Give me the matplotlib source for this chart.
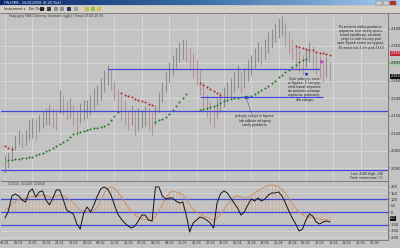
import matplotlib.pyplot as plt
import numpy as np

# price bars (daily), one entry per session
highs = [2037, 2046, 2063, 2094, 2109, 2100, 2109, 2137, 2143, 2137,
         2151, 2160, 2171, 2180, 2171, 2166, 2223, 2209, 2194, 2200,
         2180, 2166, 2186, 2194, 2194, 2209, 2229, 2237, 2257, 2280,
         2294, 2280, 2251, 2223, 2209, 2194, 2166, 2180, 2166, 2171,
         2166, 2177, 2171, 2160, 2180, 2217, 2246, 2274, 2303, 2323,
         2343, 2360, 2371, 2366, 2343, 2331, 2309, 2280, 2246, 2209,
         2189, 2180, 2200, 2217, 2231, 2246, 2257, 2274, 2294, 2274,
         2286, 2309, 2323, 2343, 2360, 2351, 2371, 2389, 2400, 2417,
         2431, 2437, 2417, 2394, 2371, 2351, 2337, 2323, 2343, 2360,
         2351, 2331, 2320, 2309, 2317, 2303]
lows = [1986, 2000, 2023, 2051, 2066, 2057, 2066, 2080, 2086, 2080,
        2103, 2114, 2123, 2123, 2114, 2109, 2157, 2151, 2137, 2143,
        2123, 2094, 2129, 2137, 2143, 2151, 2166, 2180, 2194, 2217,
        2237, 2223, 2194, 2160, 2137, 2123, 2109, 2123, 2094, 2109,
        2114, 2120, 2109, 2094, 2123, 2160, 2189, 2217, 2246, 2266,
        2286, 2303, 2314, 2303, 2280, 2260, 2237, 2209, 2174, 2146,
        2126, 2117, 2143, 2160, 2174, 2189, 2203, 2217, 2229, 2217,
        2229, 2251, 2266, 2286, 2303, 2294, 2314, 2331, 2343, 2360,
        2374, 2380, 2351, 2331, 2309, 2286, 2274, 2266, 2286, 2303,
        2280, 2269, 2257, 2246, 2260, 2251]

# trailing stop dots: (first bar, values)
green_segments = [
    (2, [2023, 2023, 2026, 2026, 2029, 2029, 2031, 2031, 2037, 2040,
         2043, 2049, 2051, 2057, 2063, 2069, 2074, 2080, 2089, 2097,
         2100, 2103, 2106, 2109, 2111, 2114, 2114, 2117, 2120, 2126,
         2137, 2149, 2160]),
    (45, [2131, 2137, 2140, 2146, 2154, 2166, 2177, 2189, 2200, 2211]),
    (58, [2166, 2169, 2171, 2174, 2177, 2180, 2186, 2191, 2194, 2197,
          2200, 2200, 2203, 2203, 2203, 2206, 2211, 2217, 2223, 2229,
          2234, 2243, 2251, 2260, 2266, 2274, 2280, 2289, 2294, 2303,
          2309, 2314]),
]
red_segments = [
    (1, [2062, 2058, 2055]),
    (35, [2214, 2210, 2206, 2203, 2199, 2195, 2191, 2188, 2184, 2180]),
    (58, [2243, 2237, 2231, 2226, 2220, 2214, 2209]),
    (86, [2349, 2346, 2343, 2340, 2337, 2337, 2334, 2331, 2329, 2326, 2323]),
]

# drawn support / resistance lines: (price, first bar, last bar)
levels = [(2283, 31, 93), (2203, 58, 94), (2163, None, None), (1994, None, None)]

# CCI panel
cci = [-48, 8, 127, 143, 127, 95, 79, 159, 183, 119,
       159, 167, 95, 56, 111, 175, 175, 103, 16, 0,
       -16, -95, -135, -8, 40, 0, 56, 127, 183, 199,
       183, 135, 56, -16, -56, -87, -111, -127, -111, -71,
       -24, -24, -64, -71, 199, 199, 127, 103, 111, 111,
       87, 71, 79, -24, -159, -87, -64, -40, -48, -64,
       -87, -127, 71, 143, 167, 151, 111, 71, 32, -24,
       0, 56, 103, 87, 111, 87, 103, 135, 151, 151,
       159, 127, 71, 8, -48, -95, -151, -135, -64, -16,
       -32, -79, -95, -79, -71, -79]
cci_avg = [20, 30, 60, 85, 100, 105, 105, 115, 125, 125,
           130, 135, 130, 120, 115, 125, 135, 130, 115, 95,
           75, 45, 15, 5, 0, 0, 10, 40, 90, 150,
           185, 200, 190, 160, 120, 80, 40, 5, -25, -45,
           -55, -60, -65, -70, -35, 10, 60, 110, 150, 165,
           160, 150, 140, 110, 60, 20, 0, -15, -30, -40,
           -55, -70, -50, -20, 20, 60, 95, 120, 130, 120,
           110, 115, 130, 150, 170, 185, 200, 210, 215, 210,
           200, 180, 150, 110, 70, 30, 0, -20, -35, -40,
           -45, -50, -55, -60, -60, -62]
cci_levels = [100, 0, -100]

date_labels = ["02.01", "08.01", "12.01", "18.01", "24.01", "30.01", "03.02",
               "09.02", "15.02", "21.02", "27.02", "03.03", "09.03", "15.03",
               "21.03", "27.03", "31.03", "06.04", "12.04", "19.04", "25.04",
               "29.04", "06.05", "12.05", "18.05", "24.05", "30.05", "05.06"]
price_ticks = [2000, 2050, 2100, 2150, 2200, 2250, 2300, 2350, 2400]
cci_ticks = [-200, -150, -100, -50, 0, 50, 100, 150, 200]

BG = '#c3c3c3'
GRID = '#d6d6d6'
BLUE = '#4848d8'
W, H = 400, 248


def px(x0, y0, x1, y1):
    return [x0 / W, 1 - y1 / H, (x1 - x0) / W, (y1 - y0) / H]


fig = plt.figure(figsize=(4, 2.48), dpi=100)
fig.patch.set_facecolor(BG)

# window chrome
chrome = fig.add_axes([0, 0, 1, 1])
chrome.set_xlim(0, W)
chrome.set_ylim(H, 0)
chrome.axis('off')
grad = np.linspace(0, 1, 200).reshape(1, -1)
chrome.imshow(grad, extent=(0, W, 5.5, 0), aspect='auto',
              cmap=plt.matplotlib.colors.LinearSegmentedColormap.from_list('t', ['#0a246a', '#3a6ea5', '#a6caf0']))
chrome.set_xlim(0, W)
chrome.set_ylim(H, 0)
chrome.text(4, 2.9, "FW20M6 - 06/01/2006 (D 20 Tick)", color='white', fontsize=2.4, va='center')
for bx, bc in [(376, '#d4d0c8'), (383, '#d4d0c8'), (390, '#c03020')]:
    chrome.add_patch(plt.Rectangle((bx, 1), 6, 3.8, fc=bc, ec='#404040', lw=0.2))
chrome.add_patch(plt.Rectangle((0, 5.5), W, 7.5, fc='#d4d0c8', ec='none'))
chrome.text(4, 9.3, "Instrument \u25be   Dni Tick \u25be", fontsize=2.4, va='center', color='#202020')
for ix, ic in [(40, '#303030'), (47, '#404040'), (54, '#909090'), (60, '#909090'),
               (67, '#1a3a6a'), (74, '#a0a0a0'), (85, '#c8c040'), (91, '#90c040'),
               (97, '#d0c050')]:
    chrome.add_patch(plt.Rectangle((ix, 7.3), 3.6, 3.6, fc=ic, ec='none'))
chrome.add_patch(plt.Rectangle((0, 13), W, 0.6, fc='#808080', ec='none'))

# price panel
ax = fig.add_axes(px(1, 13.5, 388, 181))
ax2 = fig.add_axes(px(1, 181, 388, 240))
for a in (ax, ax2):
    a.set_facecolor(BG)
    a.set_xlim(-0.17, 113)
    a.set_xticks(range(1, 112, 8), minor=True)
    a.grid(which='minor', axis='x', color=GRID, lw=0.7)
    a.grid(which='major', axis='y', color=GRID, lw=0.7)
    a.set_axisbelow(True)
    a.yaxis.tick_right()
    a.tick_params(axis='y', labelsize=2.6, length=1.2, width=0.3, pad=0.8, colors='#202020')
    a.tick_params(axis='x', which='both', length=0)
    for s in ('left', 'top'):
        a.spines[s].set_visible(False)
    for s in ('right', 'bottom'):
        a.spines[s].set_color('#606060')
        a.spines[s].set_linewidth(0.5)

bars = np.arange(1, len(highs) + 1)
hi = np.array(highs)
lo = np.array(lows)
mid = (hi + lo) / 2
colors = ['#8c8c8c' if i == 0 or mid[i] >= mid[i - 1] else '#b4929c' for i in range(len(mid))]
ax.vlines(bars, lo, hi, colors=colors, lw=0.75)

for start, vals in green_segments:
    ax.plot(np.arange(start, start + len(vals)), vals, ls='none', marker='s', ms=0.45, color='#1d7a1d')
for start, vals in red_segments:
    ax.plot(np.arange(start, start + len(vals)), vals, ls='none', marker='s', ms=0.45, color='#b02828')

for price, b0, b1 in levels:
    if b0 is None:
        ax.axhline(price, color=BLUE, lw=0.9)
    else:
        ax.hlines(price, b0, b1, color=BLUE, lw=0.9)

ax.set_ylim(1963, 2443)
ax.set_yticks(price_ticks)
ax.set_yticklabels([f"{p:,}" for p in price_ticks])
ax.set_xticks([])

ax.text(2, 2435, "Tradycyjny FW20 Dzienny (kontrakt ciągły) | Sesja 09:00-16:30", fontsize=2.2, va='center', color='#303030')
ax.text(105, 2375, "Po zmianie dołka przebicie\nwsparcia, test strefy oporu,\nkanał spadkowy; ostatnie\nsesje to ruch boczny pod\nopór. Rynek czeka na sygnał,\n30 minut lub 2 dni pod 2330",
        fontsize=2.3, ha='center', va='center', linespacing=1.05, color='#202020')
ax.text(88.5, 2226, "Opór pokryty, cena\nw figurze: 2 szczyty,\nniski kanał wsparcia,\ndo poziomu nowego\nwsparcia, pokonany\ndla zakupu",
        fontsize=2.3, ha='center', va='center', linespacing=1.05, color='#202020')
ax.text(74, 2136, "pokryty szczyt w figurze\nlub odbicie od opory\nstrefy przebicia",
        fontsize=2.3, ha='center', va='center', linespacing=1.05, color='#202020')
ax.plot([71.5, 73.5], [2203, 2146], color='#404060', lw=0.3)
ax.plot([71.5], [2203], marker='D', ms=1.2, color='#3040c0')
ax.plot([89], [2270], marker='v', ms=1.5, color='#3040c0')
ax.plot([93.5], [2308], marker='^', ms=1.5, color='#c040c0')
ax.text(111.5, 1978, "Last: 4(48) High: 248\nTrend: stronnictwo (-3)", fontsize=2.2, ha='right', va='center',
        linespacing=1.05, color='#202020')
for price, fc, tc in [(2329, '#c02838', 'white'), (2300, '#a8c8a8', 'black'), (2263, '#101010', 'white')]:
    ax.text(1.006, price, f"{price:,}", transform=ax.get_yaxis_transform(), fontsize=2.4,
            va='center', color=tc, bbox=dict(boxstyle='square,pad=0.15', fc=fc, ec='none'))

# CCI panel
ax2.set_ylim(-222, 246)
ax2.set_yticks(cci_ticks)
ax2.set_yticklabels([str(t) for t in cci_ticks])
cbars = np.arange(1, len(cci) + 1)
ax2.vlines(cbars, 0, cci_avg, colors='#d4a890', lw=0.5)
for lv in cci_levels:
    ax2.axhline(lv, color=BLUE, lw=0.9)
for lv in (50, -50):
    ax2.axhline(lv, color='#d8b898', lw=0.4)
ax2.plot(cbars, cci_avg, color='#c48c5c', lw=0.6)
ax2.plot(cbars, cci, color='#151515', lw=0.7)
ax2.set_xticks(range(1, 110, 4))
ax2.set_xticklabels(date_labels)
ax2.tick_params(axis='x', labelsize=2.4, pad=1, colors='#303030')
ax2.text(2, 225, "CCI(14)  CCI(20)  CCI(50)", fontsize=2.2, va='center', color='#303030')
ax2.text(1.006, -50, "-50", transform=ax2.get_yaxis_transform(), fontsize=2.4,
         va='center', color='white', bbox=dict(boxstyle='square,pad=0.15', fc='#101010', ec='none'))
ax2.spines['top'].set_visible(True)
ax2.spines['top'].set_color('#606060')
ax2.spines['top'].set_linewidth(0.5)

fig.savefig('out.png', dpi=100, facecolor=fig.get_facecolor())
